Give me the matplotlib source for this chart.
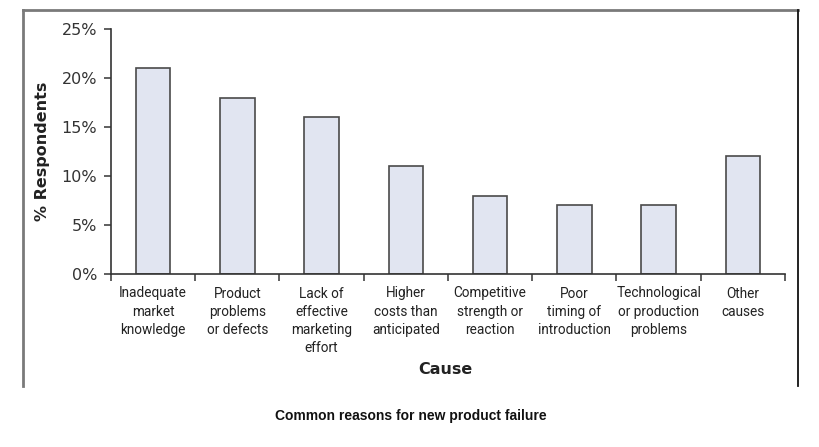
import matplotlib
matplotlib.use("Agg")
import matplotlib.pyplot as plt
from matplotlib.lines import Line2D
import numpy as np

categories = [
    "Inadequate\nmarket\nknowledge",
    "Product\nproblems\nor defects",
    "Lack of\neffective\nmarketing\neffort",
    "Higher\ncosts than\nanticipated",
    "Competitive\nstrength or\nreaction",
    "Poor\ntiming of\nintroduction",
    "Technological\nor production\nproblems",
    "Other\ncauses",
]
values = [21, 18, 16, 11, 8, 7, 7, 12]
yticks = [0, 5, 10, 15, 20, 25]
ytick_labels = ["0%", "5%", "10%", "15%", "20%", "25%"]

W, H = 819, 447
fig = plt.figure(figsize=(W / 100, H / 100), dpi=100)
ax = fig.add_axes([111 / W, 1 - 274 / H, (785 - 111) / W, (274 - 29) / H])

x = np.arange(len(categories))
ax.bar(x, values, width=0.41, color="#e1e5f1", edgecolor="#4a4a4a", linewidth=1.2, zorder=2)

ax.set_xlim(-0.5, len(categories) - 0.5)
ax.set_ylim(0, 25)
ax.set_yticks(yticks)
ax.set_yticklabels(ytick_labels, fontsize=11.5, color="#333333", family="DejaVu Sans")
ax.set_xticks(x)
ax.set_xticklabels(categories, fontsize=9.8, family="Roboto", color="#222222", linespacing=1.38)
ax.tick_params(axis="x", length=0, pad=9)
ax.set_xticks(np.arange(len(categories) + 1) - 0.5, minor=True)
ax.tick_params(axis="x", which="minor", length=5, width=1.2, color="#444444", direction="out")
ax.tick_params(axis="y", length=5, width=1.2, color="#444444", pad=5)

for s in ["top", "right"]:
    ax.spines[s].set_visible(False)
for s in ["left", "bottom"]:
    ax.spines[s].set_color("#333333")
    ax.spines[s].set_linewidth(1.2)

ax.set_ylabel("% Respondents", fontsize=11.5, fontweight="bold", color="#222222")
ax.yaxis.set_label_coords((50 - 111) / (785 - 111), 0.5)
fig.text(445 / W, 1 - 369 / H, "Cause", ha="center", va="center", fontsize=11.5, fontweight="bold", color="#222222")

fig.text(411 / W, 1 - 416 / H, "Common reasons for new product failure", ha="center", va="center",
         fontsize=10, fontweight="bold", family="Liberation Sans", color="#111111")

# outer frame
fig.add_artist(Line2D([23 / W, 23 / W], [1 - 386 / H, 1 - 10 / H], color="#7a7a7a", linewidth=2))
fig.add_artist(Line2D([23 / W, 798 / W], [1 - 10 / H, 1 - 10 / H], color="#7a7a7a", linewidth=2))
fig.add_artist(Line2D([798 / W, 798 / W], [1 - 386 / H, 1 - 10 / H], color="#111111", linewidth=1.3))

fig.savefig("out.png", dpi=100)
